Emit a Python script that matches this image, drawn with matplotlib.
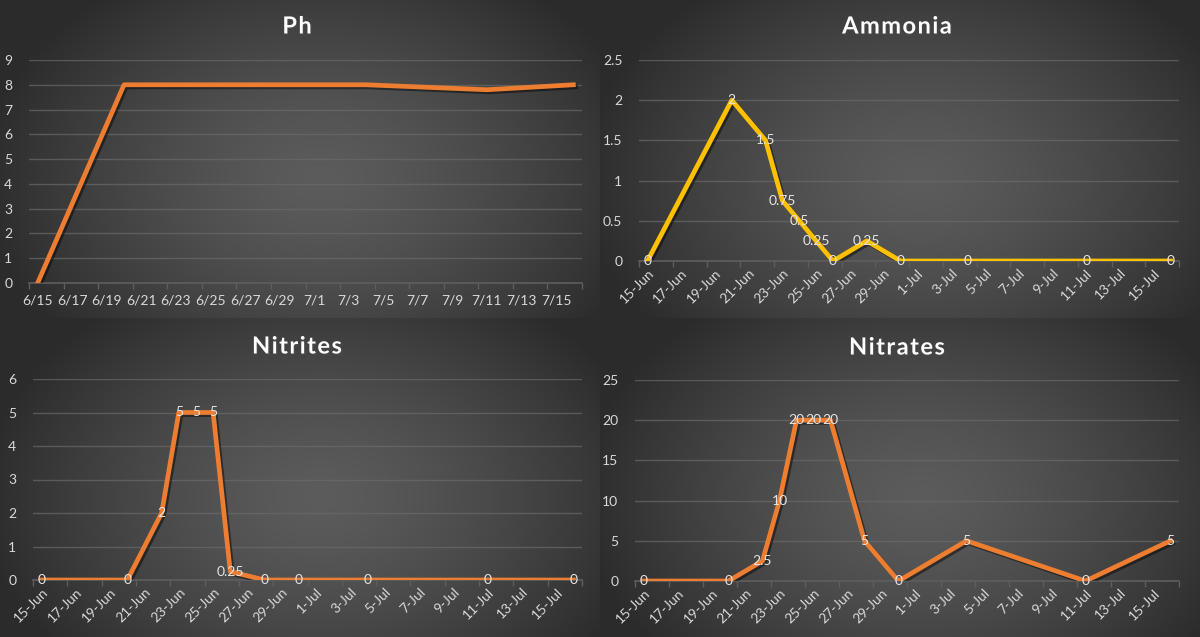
import numpy as np
import pandas as pd
import matplotlib
matplotlib.use("Agg")
import matplotlib.pyplot as plt
import matplotlib.dates as mdates
import matplotlib.patheffects as pe
from matplotlib.ticker import FuncFormatter

plt.rcParams['font.family'] = ['Lato', 'DejaVu Sans']

# sample dates (2018 is just a placeholder year)
dates = pd.to_datetime(['2018-06-15', '2018-06-20', '2018-06-22', '2018-06-23',
                        '2018-06-24', '2018-06-25', '2018-06-26', '2018-06-28',
                        '2018-06-30', '2018-07-04', '2018-07-11', '2018-07-16'])

ph = [0, 8, 8, 8, 8, 8, 8, 8, 8, 8, 7.8, 8]
ammonia = [0, 2, 1.5, 0.75, 0.5, 0.25, 0, 0.25, 0, 0, 0, 0]
nitrites = [0, 0, 2, 5, 5, 5, 0.25, 0, 0, 0, 0, 0]
nitrates = [0, 0, 2.5, 10, 20, 20, 20, 5, 0, 5, 0, 5]

ORANGE = '#ED7D31'
YELLOW = '#FFC000'
TXT = '#d9d9d9'

W, H = 1200, 637
fig = plt.figure(figsize=(W / 100, H / 100), dpi=100)

# background: one radial gradient per quadrant
bg = fig.add_axes([0, 0, 1, 1])
bg.set_axis_off()
yy, xx = np.mgrid[0:H, 0:W].astype(float)
img = np.zeros((H, W))
for (x0, x1, y0, y1) in [(0, 600, 0, 318), (600, W, 0, 318), (0, 600, 318, H), (600, W, 318, H)]:
    cx, cy = (x0 + x1) / 2 + 20, (y0 + y1) / 2 + 20
    r = np.sqrt(((xx - cx) / 340) ** 2 + ((yy - cy) / 240) ** 2)
    r = np.clip(r, 0, 1)
    val = 0.36 - 0.19 * r ** 1.4
    mask = (xx >= x0) & (xx < x1) & (yy >= y0) & (yy < y1)
    img[mask] = val[mask]
bg.imshow(np.dstack([img] * 3), extent=[0, W, H, 0], aspect='auto')
bg.set_xlim(0, W)
bg.set_ylim(H, 0)

start = pd.Timestamp('2018-06-14 12:00')
end = pd.Timestamp('2018-07-16 12:00')


def panel(rect, title, title_pos, vals, color, ymax, ystep, short_fmt, labels):
    l, t, r, b = rect
    ax = fig.add_axes([l / W, 1 - b / H, (r - l) / W, (b - t) / H])
    ax.set_facecolor('none')
    ax.plot(dates, vals, color=color, lw=3.4, solid_joinstyle='round',
            path_effects=[pe.SimpleLineShadow(offset=(1.5, -1.5), alpha=0.45, shadow_color='black'),
                          pe.Normal()], zorder=3)
    ax.set_xlim(start, end)
    ax.set_ylim(0, ymax)
    ax.set_yticks(np.arange(0, ymax + ystep / 2, ystep))
    ax.yaxis.set_major_formatter(FuncFormatter(lambda v, p: f'{v:g}'))
    ax.yaxis.grid(True, color='#6a6a6a', lw=1, alpha=0.7)
    ax.set_axisbelow(True)
    for s in ['top', 'right', 'left']:
        ax.spines[s].set_visible(False)
    ax.spines['bottom'].set_color('#5e5e5e')
    ax.spines['bottom'].set_linewidth(1.2)
    ax.tick_params(axis='y', length=0, colors=TXT, labelsize=10, pad=12)

    major = pd.date_range('2018-06-15', '2018-07-15', freq='2D')
    minor = pd.date_range('2018-06-14 12:00', '2018-07-16 12:00', freq='2D')
    ax.set_xticks(major)
    ax.set_xticks(minor, minor=True)
    ax.tick_params(axis='x', which='major', length=0, colors=TXT, labelsize=10, pad=8)
    ax.tick_params(axis='x', which='minor', length=4, color='#5e5e5e', width=1)
    if short_fmt:
        ax.set_xticklabels([f'{d.month}/{d.day}' for d in major])
    else:
        ax.set_xticklabels([f'{d.day}-{d.strftime("%b")}' for d in major])
        for lab in ax.get_xticklabels():
            lab.set_rotation(45)
            lab.set_ha('right')
            lab.set_rotation_mode('anchor')
        ax.tick_params(axis='x', which='major', pad=4)

    if labels:
        for d, v in zip(dates, vals):
            ax.annotate(f'{v:g}', (mdates.date2num(d), v), ha='center', va='center',
                        color='#e6e6e6', fontsize=10, zorder=4)

    # spaced-out title, like the Excel chart style
    spaced = '\u200a'.join(title)
    fig.text(title_pos[0] / W, 1 - title_pos[1] / H, spaced, color='white',
             fontsize=17, fontweight='bold', ha='center', va='center',
             path_effects=[pe.withSimplePatchShadow(offset=(1, -1), alpha=0.5)])
    return ax


panel((29, 60, 582, 283), 'Ph', (297, 26), ph, ORANGE, 9, 1, True, False)
panel((639, 60, 1179, 261), 'Ammonia', (897, 26), ammonia, YELLOW, 2.5, 0.5, False, True)
panel((33, 379, 582, 580), 'Nitrites', (297, 346), nitrites, ORANGE, 6, 1, False, True)
panel((635, 380, 1179, 581), 'Nitrates', (897, 347), nitrates, ORANGE, 25, 5, False, True)

fig.savefig('out.png', dpi=100)
